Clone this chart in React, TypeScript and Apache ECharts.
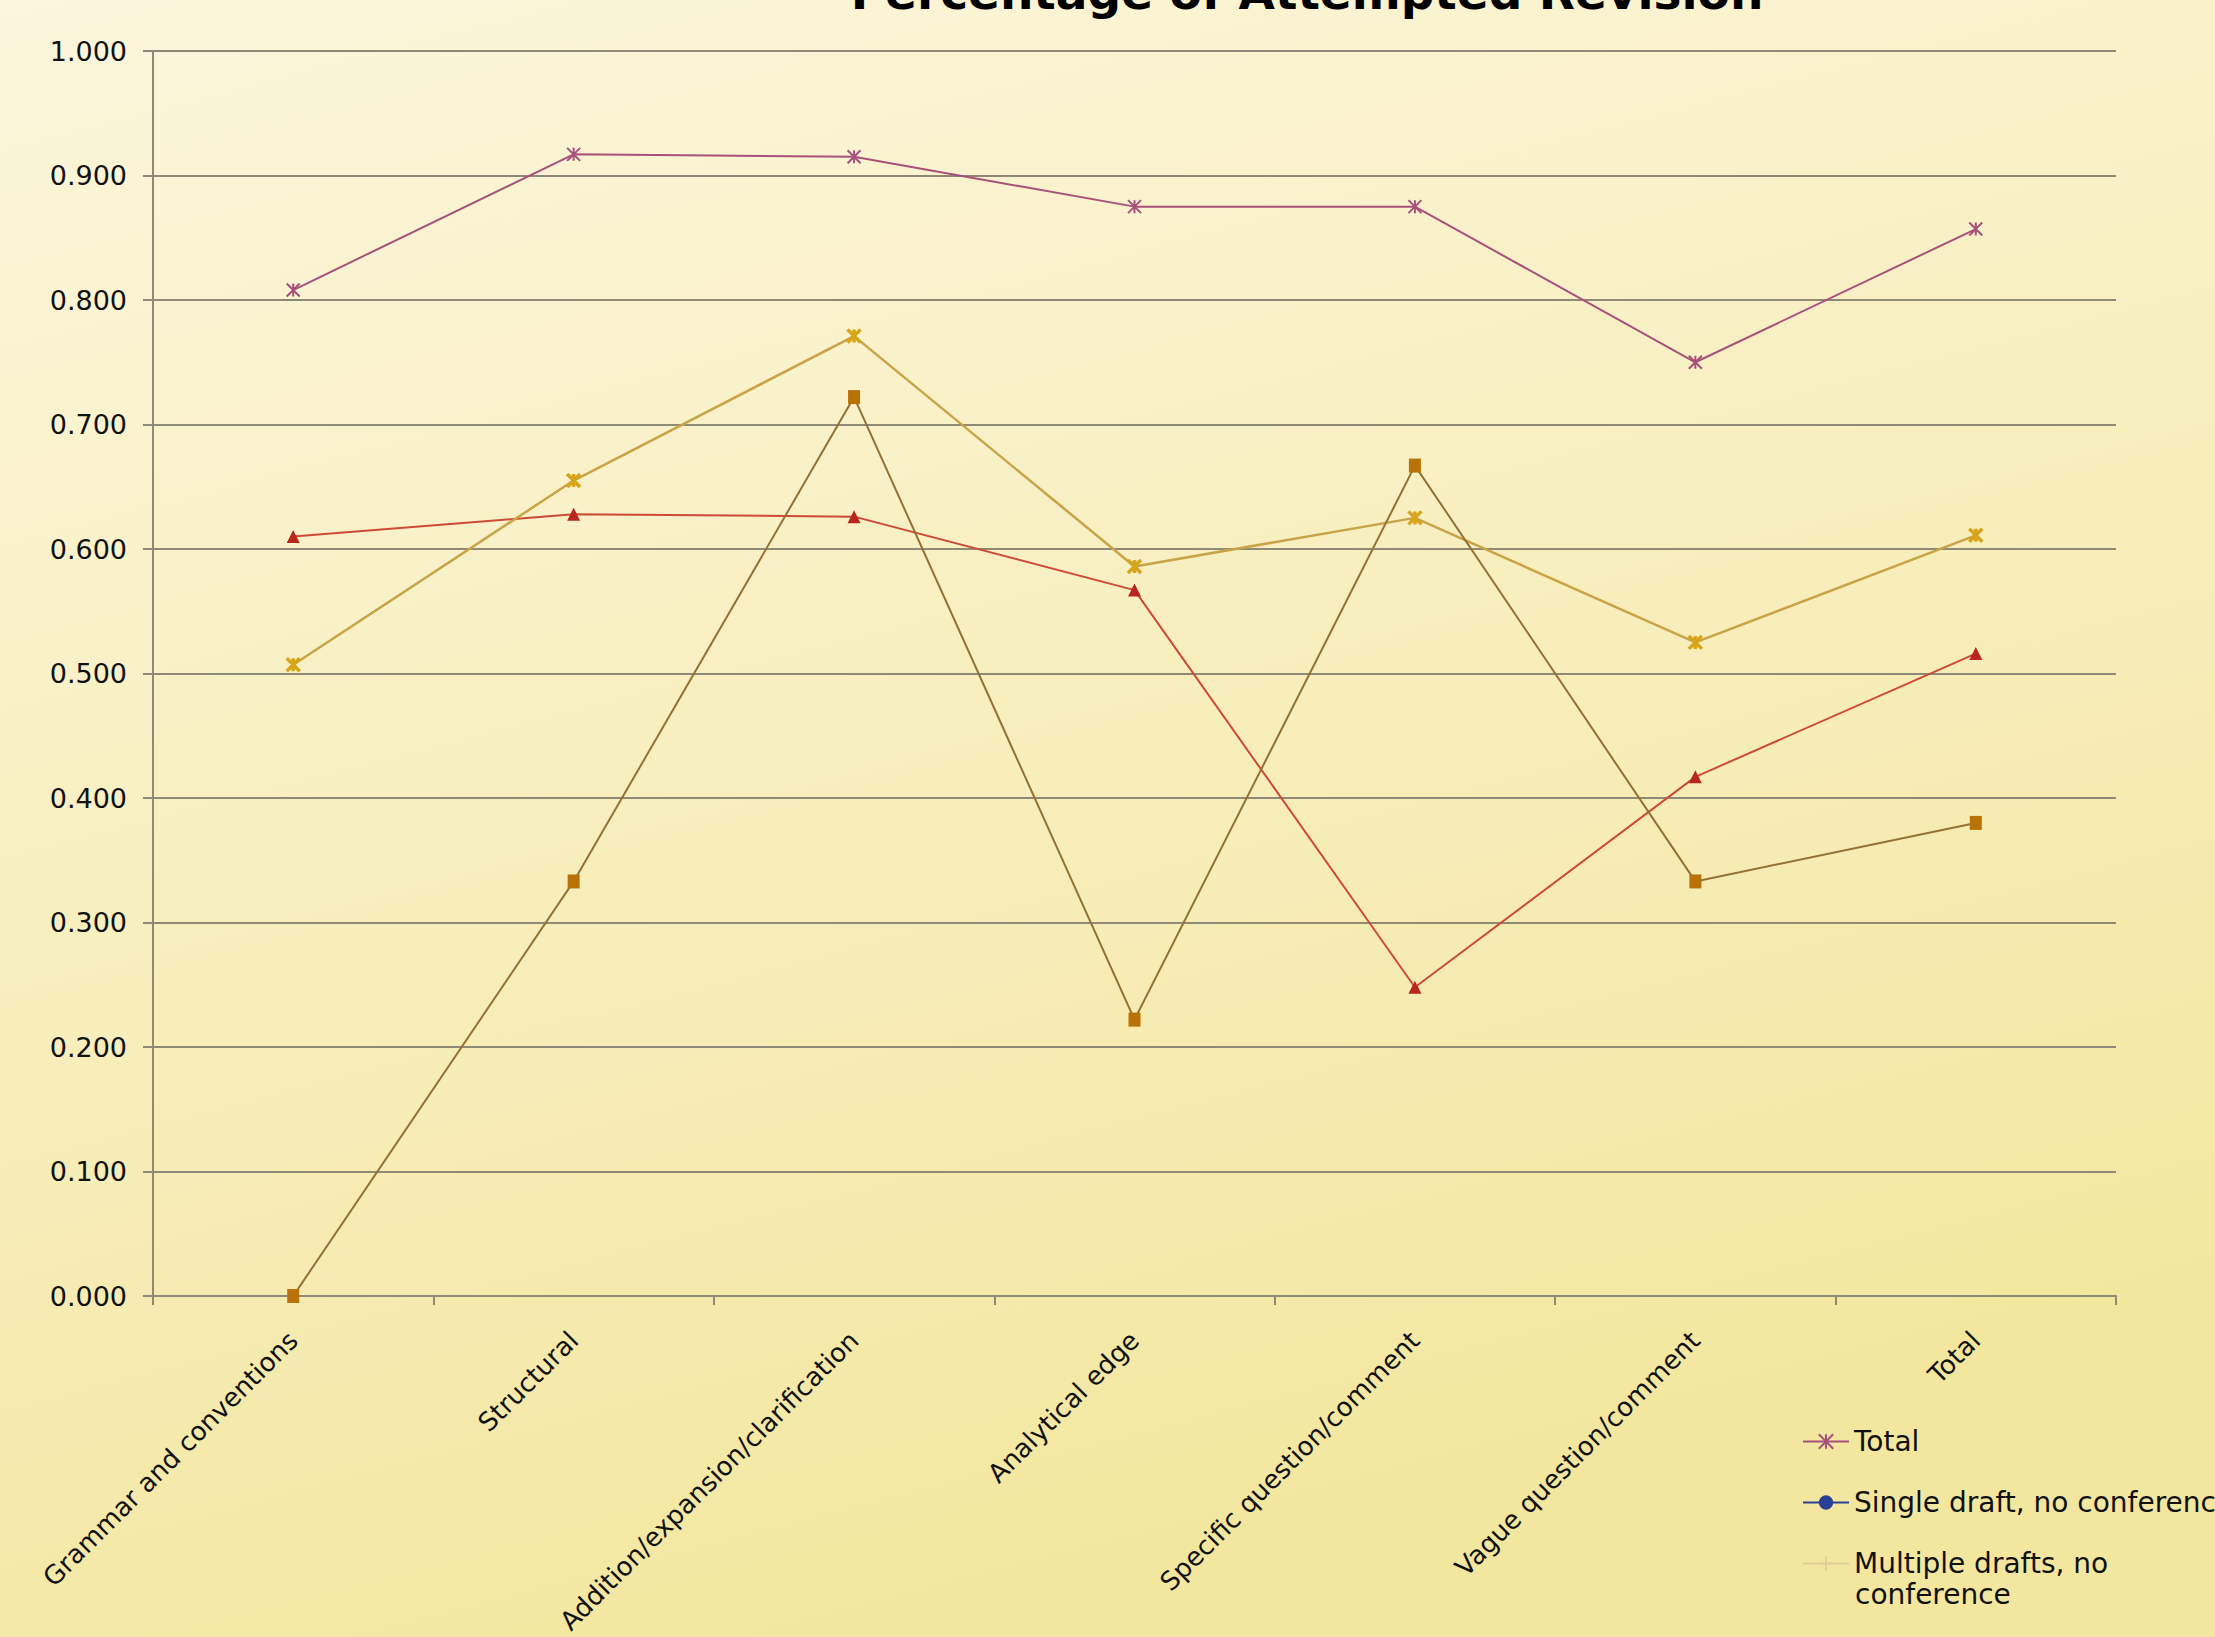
import React, { useEffect, useRef } from "react";
import * as echarts from "echarts";

const categories = [
  "Grammar and conventions",
  "Structural",
  "Addition/expansion/clarification",
  "Analytical edge",
  "Specific question/comment",
  "Vague question/comment",
  "Total",
];

const yTicks = { min: 0, max: 1, interval: 0.1 };

const legendNames = ["Total", "Single draft, no conference", "Multiple drafts, no conference"];

const totalValues = [0.808, 0.917, 0.915, 0.875, 0.875, 0.75, 0.857];
// legend-only series (no visible line in the reference)
const singleNoConfValues: (number | null)[] = [null, null, null, null, null, null, null];
const multipleNoConfValues: (number | null)[] = [null, null, null, null, null, null, null];
const redTriangleValues = [0.61, 0.628, 0.626, 0.567, 0.248, 0.417, 0.516];
const goldStarValues = [0.507, 0.655, 0.771, 0.586, 0.625, 0.525, 0.611];
const brownSquareValues = [0.0, 0.333, 0.722, 0.222, 0.667, 0.333, 0.38];

const ASTERISK = "path://M0,0 L10,10 M10,0 L0,10 M5,0 L5,10";

export default function App() {
  const ref = useRef<HTMLDivElement>(null);
  useEffect(() => {
    document.body.style.margin = "0";
    if (!ref.current) return;
    const chart = echarts.init(ref.current, null, { renderer: "svg" });
    const font = "DejaVu Sans";
    const gridColor = "#8e8a76";
    chart.setOption({
      animation: false,
      backgroundColor: new echarts.graphic.LinearGradient(0, 0, 0.35, 1, [
        { offset: 0, color: "#fbf6dc" },
        { offset: 0.5, color: "#f8efc0" },
        { offset: 1, color: "#f3e7a0" },
      ]),
      graphic: [
        {
          type: "text",
          x: 1307,
          y: 16,
          style: {
            text: "Percentage of Attempted Revision",
            font: `bold 47px ${font}`,
            fill: "#000",
            align: "center",
            verticalAlign: "bottom",
          },
        },
        {
          type: "text",
          x: 1855,
          y: 1594,
          style: {
            text: "conference",
            font: `28px ${font}`,
            fill: "#111",
            align: "left",
            verticalAlign: "middle",
          },
        },
      ],
      grid: { left: 153, right: 99, top: 51, bottom: 340, containLabel: false },
      legend: {
        orient: "vertical",
        left: 1797,
        top: 1421,
        height: 1000,
        itemGap: 30,
        itemWidth: 46,
        itemHeight: 18,
        data: legendNames,
        textStyle: {
          fontFamily: font,
          fontSize: 28,
          color: "#111",
          lineHeight: 31,
        },
        formatter: (n: string) =>
          n === "Multiple drafts, no conference" ? "Multiple drafts, no" : n,
      },
      xAxis: {
        type: "category",
        data: categories,
        boundaryGap: true,
        axisLine: { lineStyle: { color: gridColor, width: 2 } },
        axisTick: { show: true, length: 9, lineStyle: { color: gridColor, width: 2 } },
        axisLabel: {
          rotate: 45,
          interval: 0,
          margin: 40,
          fontFamily: font,
          fontSize: 26,
          color: "#111",
        },
      },
      yAxis: {
        type: "value",
        min: yTicks.min,
        max: yTicks.max,
        interval: yTicks.interval,
        axisLine: { show: true, lineStyle: { color: gridColor, width: 2 } },
        axisTick: { show: true, length: 10, lineStyle: { color: gridColor, width: 2 } },
        splitLine: { lineStyle: { color: gridColor, width: 2 } },
        axisLabel: {
          formatter: (v: number) => v.toFixed(3),
          margin: 26,
          fontFamily: font,
          fontSize: 27,
          color: "#111",
        },
      },
      series: [
        {
          name: "Total",
          type: "line",
          data: totalValues,
          symbol: ASTERISK,
          symbolSize: 13,
          lineStyle: { color: "#a8507c", width: 2 },
          itemStyle: { color: "transparent", borderColor: "#a8507c", borderWidth: 2 },
        },
        {
          name: "Single draft, no conference",
          type: "line",
          data: singleNoConfValues,
          symbol: "circle",
          symbolSize: 14,
          lineStyle: { color: "#2a3f96", width: 2 },
          itemStyle: { color: "#2a3f96" },
        },
        {
          name: "Multiple drafts, no conference",
          type: "line",
          data: multipleNoConfValues,
          symbol: "path://M5,0 L5,10 M0,5 L10,5",
          symbolSize: 12,
          lineStyle: { color: "#e6cc9c", width: 2 },
          itemStyle: { color: "transparent", borderColor: "#e6cc9c", borderWidth: 1 },
        },
        {
          name: "Single draft, conference",
          type: "line",
          data: redTriangleValues,
          symbol: "triangle",
          symbolSize: 13,
          lineStyle: { color: "#cc4a36", width: 2 },
          itemStyle: { color: "#b8261c" },
        },
        {
          name: "Multiple drafts, conference",
          type: "line",
          data: goldStarValues,
          symbol: ASTERISK,
          symbolSize: 13,
          lineStyle: { color: "#c9a346", width: 2.5 },
          itemStyle: { color: "transparent", borderColor: "#d6a51c", borderWidth: 3.5 },
        },
        {
          name: "Conference only",
          type: "line",
          data: brownSquareValues,
          symbol: "rect",
          symbolSize: [12, 14],
          lineStyle: { color: "#957033", width: 2 },
          itemStyle: { color: "#b87208" },
        },
      ],
    });
    return () => chart.dispose();
  }, []);
  return <div ref={ref} style={{ width: 2215, height: 1637 }} />;
}
